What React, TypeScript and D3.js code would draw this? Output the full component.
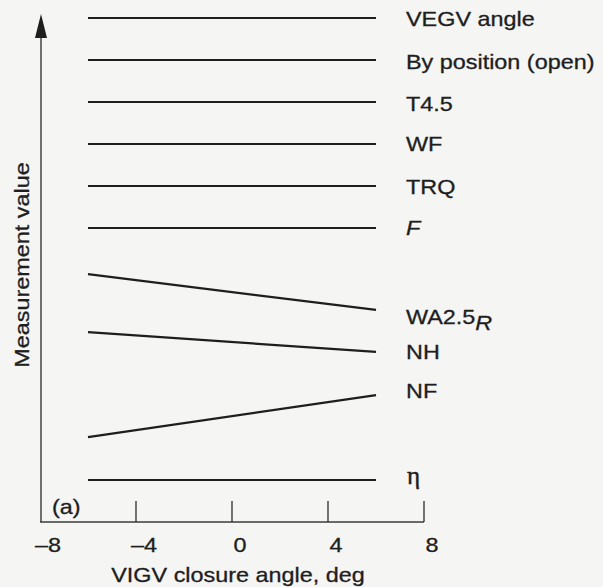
import React from "react";
import * as d3 from "d3";

// Measurement traces versus VIGV closure angle (arbitrary vertical units)
const xStart = -6;
const xEnd = 6;
const seriesNames = ["VEGV angle", "By position (open)", "T4.5", "WF", "TRQ", "F", "WA2.5R", "NH", "NF", "eta"];
const startValues = [120, 110, 100, 90, 80, 70, 59, 45.2, 20.2, 10];
const endValues = [120, 110, 100, 90, 80, 70, 50.5, 40.5, 30.2, 10];
const xTicks = [-8, -4, 0, 4, 8];
const tickLabels = ["\u20138", "\u20134", "0", "4", "8"];
// label vertical nudges (px) relative to each line's right end
const labelNudge = [1, 2, 2, 0, 1, 0, 7, 0, -4, -2];

const W = 603;
const H = 587;
const FONT = "'Liberation Sans', Arial, Helvetica, sans-serif";
const INK = "#1e1e1e";
const AXIS = "#3a3a3a";
const SX = 1.17; // wide sans lettering

type LabelProps = {
  x: number;
  y: number;
  anchor?: "start" | "middle" | "end";
  rotate?: number;
  children: React.ReactNode;
  italic?: boolean;
};

function Label({ x, y, anchor = "start", rotate = 0, children, italic }: LabelProps) {
  return (
    <g transform={`translate(${x},${y}) rotate(${rotate}) scale(${SX},1)`}>
      <text
        dy="0.36em"
        textAnchor={anchor}
        fontFamily={FONT}
        fontSize={20}
        fontStyle={italic ? "italic" : "normal"}
        fill={INK}
        stroke={INK}
        strokeWidth={0.3}
      >
        {children}
      </text>
    </g>
  );
}

export default function App() {
  const x = d3.scaleLinear().domain([-8, 8]).range([40, 424]);
  const y = d3.scaleLinear().domain([0, 120]).range([522, 18]);
  const line = d3
    .line<[number, number]>()
    .x((d) => x(d[0]))
    .y((d) => y(d[1]));

  const axisY0 = y(0);
  const tickLen = 21;

  const renderLabel = (name: string, i: number) => {
    const ly = y(endValues[i]) + labelNudge[i];
    const lx = 406;
    if (name === "WA2.5R") {
      return (
        <Label key={name} x={lx} y={ly}>
          WA2.5
          <tspan fontStyle="italic" dy={6}>
            R
          </tspan>
        </Label>
      );
    }
    if (name === "F") {
      return (
        <Label key={name} x={lx} y={ly} italic>
          F
        </Label>
      );
    }
    if (name === "eta") {
      return (
        <text
          key={name}
          x={lx + 1}
          y={ly}
          dy="0.22em"
          fontFamily="'Liberation Serif', 'DejaVu Serif', serif"
          fontSize={25}
          fill={INK}
          stroke={INK}
          strokeWidth={0.5}
        >
          η
        </text>
      );
    }
    return (
      <Label key={name} x={lx} y={ly}>
        {name}
      </Label>
    );
  };

  return (
    <svg
      width={W}
      height={H}
      style={{ position: "absolute", left: 0, top: 0, background: "#f5f5f4" }}
    >
      <rect width={W} height={H} fill="#f5f5f4" />

      {/* vertical axis with arrowhead */}
      <line x1={41} x2={41} y1={axisY0} y2={36} stroke={AXIS} strokeWidth={1.4} />
      <path d="M41,14 L35,38 L47,38 Z" fill={INK} />

      {/* horizontal axis */}
      <line x1={40} x2={x(8)} y1={axisY0} y2={axisY0} stroke={AXIS} strokeWidth={1.4} />
      {xTicks.map((t) =>
        t === -8 ? null : (
          <line
            key={"tk" + t}
            x1={x(t)}
            x2={x(t)}
            y1={axisY0}
            y2={axisY0 - tickLen}
            stroke={AXIS}
            strokeWidth={1.4}
          />
        )
      )}
      {xTicks.map((t, i) => (
        <Label key={"tl" + t} x={x(t) + 8} y={545} anchor="middle">
          {tickLabels[i]}
        </Label>
      ))}

      <Label x={238} y={575} anchor="middle">
        VIGV closure angle, deg
      </Label>

      <Label x={22} y={265} anchor="middle" rotate={-90}>
        Measurement value
      </Label>

      <Label x={52} y={507}>
        (a)
      </Label>

      {/* traces */}
      {seriesNames.map((name, i) => (
        <path
          key={"ln" + name}
          d={line([
            [xStart, startValues[i]],
            [xEnd, endValues[i]],
          ]) as string}
          fill="none"
          stroke={INK}
          strokeWidth={2.2}
        />
      ))}

      {seriesNames.map(renderLabel)}
    </svg>
  );
}
